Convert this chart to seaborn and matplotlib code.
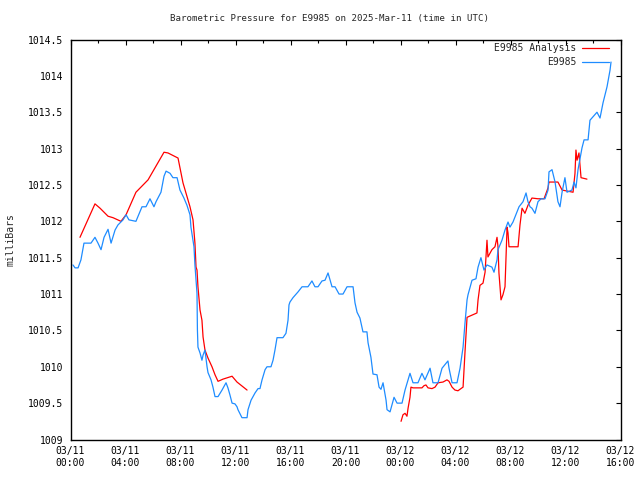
import matplotlib
matplotlib.use("Agg")
import matplotlib.pyplot as plt
import seaborn as sns
import pandas as pd

# ---- data (hours since 2025-03-11 00:00 UTC, milliBars) ----
blue_hours = [0.18, 0.33, 0.55, 0.76, 0.98, 1.49, 1.78, 2.00, 2.22, 2.44, 2.73, 2.95, 3.24, 3.45, 3.82,
              4.04, 4.25, 4.76, 5.20, 5.49, 5.78, 6.07, 6.22, 6.58, 6.80, 6.95, 7.24, 7.45, 7.75, 7.96,
              8.25, 8.47, 8.69, 8.76, 8.98, 9.05, 9.20, 9.23, 9.27, 9.42, 9.56, 9.64, 9.78, 9.93, 10.00,
              10.22, 10.36, 10.51, 10.73, 11.02, 11.31, 11.45, 11.60, 11.75, 11.96, 12.11, 12.18, 12.47,
              12.84, 12.91, 13.13, 13.42, 13.64, 13.78, 13.93, 14.15, 14.29, 14.58, 14.73, 14.87, 15.02,
              15.45, 15.67, 15.82, 15.89, 15.96, 16.18, 16.55, 16.84, 17.27, 17.56, 17.78, 18.00, 18.29,
              18.51, 18.73, 19.02, 19.24, 19.53, 19.82, 20.11, 20.55, 20.69, 20.84, 21.05, 21.27, 21.56,
              21.64, 21.85, 22.00, 22.29, 22.44, 22.58, 22.73, 22.95, 23.02, 23.24, 23.53, 23.75, 24.11,
              24.33, 24.69, 24.91, 25.27, 25.56, 25.78, 26.15, 26.36, 26.73, 27.02, 27.45, 27.53, 27.75,
              28.11, 28.33, 28.55, 28.69, 28.84, 28.91, 29.20, 29.49, 29.64, 29.85, 30.07, 30.29, 30.65,
              30.80, 31.02, 31.09, 31.38, 31.60, 31.82, 31.96, 32.18, 32.47, 32.62, 32.91, 33.13, 33.27,
              33.42, 33.56, 33.78, 34.00, 34.22, 34.51, 34.73, 34.80, 35.02, 35.24, 35.45, 35.60, 35.75,
              35.96, 36.11, 36.47, 36.62, 36.76, 36.91, 37.20, 37.35, 37.64, 37.78, 38.29, 38.51, 38.73,
              39.02, 39.24, 39.31]
blue_mb = [1011.40, 1011.36, 1011.36, 1011.47, 1011.70, 1011.70, 1011.78, 1011.70, 1011.61, 1011.78,
           1011.89, 1011.70, 1011.88, 1011.95, 1012.02, 1012.09, 1012.02, 1012.00, 1012.20, 1012.20,
           1012.31, 1012.20, 1012.27, 1012.40, 1012.62, 1012.69, 1012.66, 1012.60, 1012.60, 1012.43,
           1012.32, 1012.22, 1012.09, 1011.92, 1011.65, 1011.40, 1011.01, 1010.51, 1010.27, 1010.19,
           1010.09, 1010.16, 1010.23, 1010.00, 1009.92, 1009.82, 1009.72, 1009.59, 1009.59, 1009.68,
           1009.78, 1009.71, 1009.61, 1009.50, 1009.49, 1009.45, 1009.41, 1009.30, 1009.30, 1009.41,
           1009.54, 1009.64, 1009.70, 1009.70, 1009.82, 1009.96, 1010.00, 1010.00, 1010.09, 1010.23,
           1010.40, 1010.40, 1010.46, 1010.64, 1010.85, 1010.89, 1010.95, 1011.03, 1011.10, 1011.10,
           1011.18, 1011.10, 1011.10, 1011.18, 1011.19, 1011.29, 1011.10, 1011.10, 1011.00, 1011.00,
           1011.10, 1011.10, 1010.88, 1010.75, 1010.67, 1010.48, 1010.48, 1010.33, 1010.13, 1009.90,
           1009.89, 1009.72, 1009.69, 1009.78, 1009.54, 1009.41, 1009.38, 1009.58, 1009.50, 1009.50,
           1009.68, 1009.91, 1009.78, 1009.78, 1009.91, 1009.82, 1009.98, 1009.78, 1009.78, 1009.98,
           1010.08, 1009.98, 1009.78, 1009.78, 1009.98, 1010.27, 1010.60, 1010.92, 1010.99, 1011.19,
           1011.21, 1011.37, 1011.50, 1011.33, 1011.40, 1011.37, 1011.30, 1011.47, 1011.61, 1011.74,
           1011.88, 1011.99, 1011.92, 1011.99, 1012.13, 1012.20, 1012.27, 1012.39, 1012.27, 1012.20,
           1012.18, 1012.11, 1012.27, 1012.31, 1012.31, 1012.43, 1012.68, 1012.71, 1012.54, 1012.27,
           1012.20, 1012.40, 1012.60, 1012.40, 1012.43, 1012.54, 1012.46, 1012.71, 1013.01, 1013.12,
           1013.12, 1013.39, 1013.50, 1013.42, 1013.63, 1013.85, 1014.08, 1014.19]

red_hours_a = [0.69, 1.78, 2.15, 2.73, 3.09, 3.67, 4.04, 4.76, 5.64, 6.80, 7.09, 7.82, 8.18, 8.69, 8.91,
               9.05, 9.13, 9.20, 9.27, 9.42, 9.56, 9.64, 9.78, 10.00, 10.29, 10.51, 10.73, 11.09, 11.75,
               12.11, 12.84]
red_mb_a = [1011.78, 1012.24, 1012.18, 1012.07, 1012.05, 1012.00, 1012.09, 1012.40, 1012.57, 1012.95,
            1012.94, 1012.87, 1012.53, 1012.20, 1012.02, 1011.70, 1011.37, 1011.33, 1011.10, 1010.78,
            1010.64, 1010.41, 1010.23, 1010.12, 1010.00, 1009.89, 1009.80, 1009.83, 1009.87, 1009.79,
            1009.68]
red_hours_b = [24.04, 24.18, 24.33, 24.47, 24.55, 24.69, 24.76, 24.91, 25.56, 25.71, 25.85, 26.00, 26.29,
               26.51, 26.73, 27.09, 27.38, 27.53, 27.75, 27.96, 28.18, 28.47, 28.55, 28.69, 28.84, 29.20,
               29.56, 29.64, 29.78, 30.00, 30.15, 30.29, 30.36, 30.65, 30.87, 31.02, 31.09, 31.16, 31.31,
               31.45, 31.60, 31.75, 31.82, 31.89, 32.55, 32.69, 32.84, 33.05, 33.27, 33.56, 34.00, 34.44,
               34.73, 34.80, 35.45, 35.75, 36.55, 36.69, 36.76, 36.84, 36.98, 37.13, 37.56]
red_mb_b = [1009.25, 1009.34, 1009.36, 1009.32, 1009.43, 1009.58, 1009.72, 1009.71, 1009.71, 1009.74,
            1009.75, 1009.71, 1009.70, 1009.72, 1009.78, 1009.79, 1009.82, 1009.80, 1009.72, 1009.68,
            1009.67, 1009.71, 1009.72, 1010.20, 1010.68, 1010.71, 1010.74, 1010.92, 1011.12, 1011.15,
            1011.30, 1011.74, 1011.51, 1011.61, 1011.65, 1011.78, 1011.65, 1011.29, 1010.92, 1010.99,
            1011.10, 1011.92, 1011.84, 1011.65, 1011.65, 1011.95, 1012.18, 1012.11, 1012.22, 1012.32,
            1012.31, 1012.31, 1012.46, 1012.54, 1012.54, 1012.43, 1012.40, 1012.66, 1012.98, 1012.84,
            1012.94, 1012.60, 1012.58]

x_tick_hours = [0, 4, 8, 12, 16, 20, 24, 28, 32, 36, 40]
x_tick_labels = ["03/11\n00:00", "03/11\n04:00", "03/11\n08:00", "03/11\n12:00", "03/11\n16:00",
                 "03/11\n20:00", "03/12\n00:00", "03/12\n04:00", "03/12\n08:00", "03/12\n12:00",
                 "03/12\n16:00"]
y_ticks = [1009, 1009.5, 1010, 1010.5, 1011, 1011.5, 1012, 1012.5, 1013, 1013.5, 1014, 1014.5]
y_tick_labels = ["1009", "1009.5", "1010", "1010.5", "1011", "1011.5", "1012", "1012.5", "1013",
                 "1013.5", "1014", "1014.5"]

title = "Barometric Pressure for E9985 on 2025-Mar-11 (time in UTC)"
red_label = "E9985 Analysis"
blue_label = "E9985"

sns.set_style("white")
plt.rcParams["font.family"] = ["DejaVu Sans Mono", "DejaVu Sans"]

fig = plt.figure(figsize=(6.4, 4.8), dpi=100)
ax = fig.add_axes([70.5 / 640, 1 - 439.5 / 480, 550 / 640, 400 / 480])

red_color = "#ff0000"
blue_color = "#1e8cff"

sns.lineplot(x=red_hours_a, y=red_mb_a, ax=ax, color=red_color, linewidth=0.9, label=red_label,
             estimator=None, sort=False)
sns.lineplot(x=red_hours_b, y=red_mb_b, ax=ax, color=red_color, linewidth=0.9, estimator=None,
             sort=False, legend=False)
sns.lineplot(x=blue_hours, y=blue_mb, ax=ax, color=blue_color, linewidth=0.9, label=blue_label,
             estimator=None, sort=False)

ax.set_xlim(0, 40)
ax.set_ylim(1009, 1014.5)
ax.set_xticks(x_tick_hours)
ax.set_xticklabels(x_tick_labels)
ax.set_xticks([h + 2 for h in x_tick_hours[:-1]], minor=True)
ax.set_yticks(y_ticks)
ax.set_yticklabels(y_tick_labels)
ax.tick_params(axis="both", which="both", direction="in", top=True, right=True,
               labelsize=7, colors="black", width=0.8)
ax.tick_params(axis="both", which="major", length=3.5, pad=5)
ax.tick_params(axis="x", which="minor", length=2)
for s in ax.spines.values():
    s.set_color("black")
    s.set_linewidth(1.0)

ax.set_xlabel("")
ax.set_ylabel("milliBars", fontsize=7)
ax.yaxis.set_label_coords(-0.1, 0.5)
fig.text(330 / 640, 1 - 19 / 480, title, ha="center", va="center", fontsize=6.6)

leg = ax.legend(loc="upper right", bbox_to_anchor=(1 - 8 / 550, 1.0), borderaxespad=0.0,
                frameon=False, markerfirst=False, fontsize=7,
                handlelength=2.7, labelspacing=0.42, handletextpad=0.6)
for t in leg.get_texts():
    t.set_ha("right")
leg._legend_box.align = "right"

fig.savefig("out.png", dpi=100)
